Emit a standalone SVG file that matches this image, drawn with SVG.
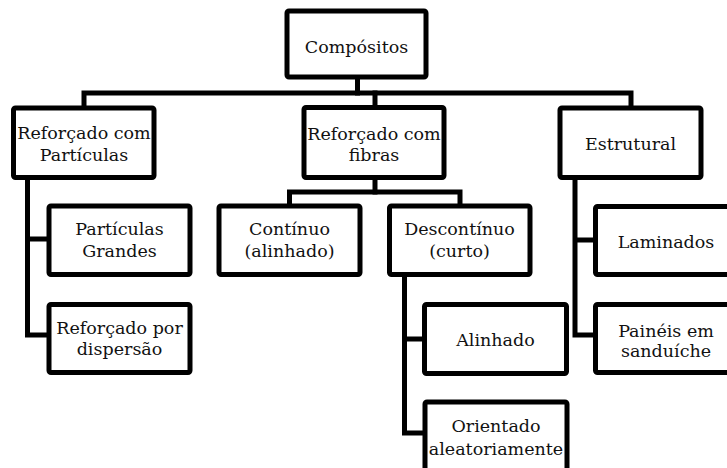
<svg xmlns="http://www.w3.org/2000/svg" width="727" height="468" viewBox="0 0 727 468">
<style>
.box{fill:#fff;stroke:#000;stroke-width:5;stroke-linejoin:round}
.lbl{font-family:"DejaVu Serif","Liberation Serif",serif;font-size:17.5px;fill:#111;text-anchor:middle}
.con{fill:none;stroke:#000;stroke-width:5;stroke-linecap:square;stroke-linejoin:miter}
</style>
<rect width="727" height="468" fill="#fff"/>
<g id="connectors">
<path class="con" d="M357.5 77 V93"/>
<path class="con" d="M84 108 V93 H631 V108"/>
<path class="con" d="M375 93 V108"/>
<path class="con" d="M27.5 177 V335 H49 M27.5 239 H49"/>
<path class="con" d="M375 177 V192"/>
<path class="con" d="M289.5 206 V192 H460 V206"/>
<path class="con" d="M404.5 274 V433 H425 M404.5 339 H424.5"/>
<path class="con" d="M575 177 V335 H595 M575 240 H595"/>
</g>
<g id="compositos"><rect class="box" x="287" y="11" width="139" height="66" rx="2"/><text class="lbl" x="356.5" y="53">Compósitos</text></g>
<g id="particulas"><rect class="box" x="13.5" y="108" width="140.5" height="69.5" rx="2"/><text class="lbl" x="84" y="139">Reforçado com</text><text class="lbl" x="84" y="161">Partículas</text></g>
<g id="fibras"><rect class="box" x="304" y="107.5" width="140" height="70" rx="2"/><text class="lbl" x="374" y="140">Reforçado com</text><text class="lbl" x="374" y="161">fibras</text></g>
<g id="estrutural"><rect class="box" x="560" y="108" width="141" height="69.5" rx="2"/><text class="lbl" x="630.5" y="150">Estrutural</text></g>
<g id="continuo"><rect class="box" x="219" y="206" width="141" height="68.5" rx="2"/><text class="lbl" x="289.5" y="235">Contínuo</text><text class="lbl" x="289.5" y="257">(alinhado)</text></g>
<g id="descontinuo"><rect class="box" x="389.5" y="206" width="140.5" height="68.5" rx="2"/><text class="lbl" x="459.5" y="235">Descontínuo</text><text class="lbl" x="459.5" y="257">(curto)</text></g>
<g id="particulas-grandes"><rect class="box" x="49" y="206" width="141" height="68.5" rx="2"/><text class="lbl" x="119.5" y="235">Partículas</text><text class="lbl" x="119.5" y="257">Grandes</text></g>
<g id="dispersao"><rect class="box" x="49" y="304.5" width="141" height="68" rx="2"/><text class="lbl" x="119.5" y="334">Reforçado por</text><text class="lbl" x="119.5" y="355">dispersão</text></g>
<g id="alinhado"><rect class="box" x="424.5" y="304.5" width="142" height="69" rx="2"/><text class="lbl" x="495.5" y="346">Alinhado</text></g>
<g id="orientado"><rect class="box" x="425" y="402" width="142" height="75" rx="2"/><text class="lbl" x="496" y="432">Orientado</text><text class="lbl" x="496" y="455">aleatoriamente</text></g>
<g id="laminados"><rect class="box" x="595.5" y="206.5" width="141" height="68" rx="2"/><text class="lbl" x="666" y="248">Laminados</text></g>
<g id="paineis"><rect class="box" x="595.5" y="304.5" width="141" height="68" rx="2"/><text class="lbl" x="666" y="337">Painéis em</text><text class="lbl" x="666" y="357">sanduíche</text></g>
</svg>
